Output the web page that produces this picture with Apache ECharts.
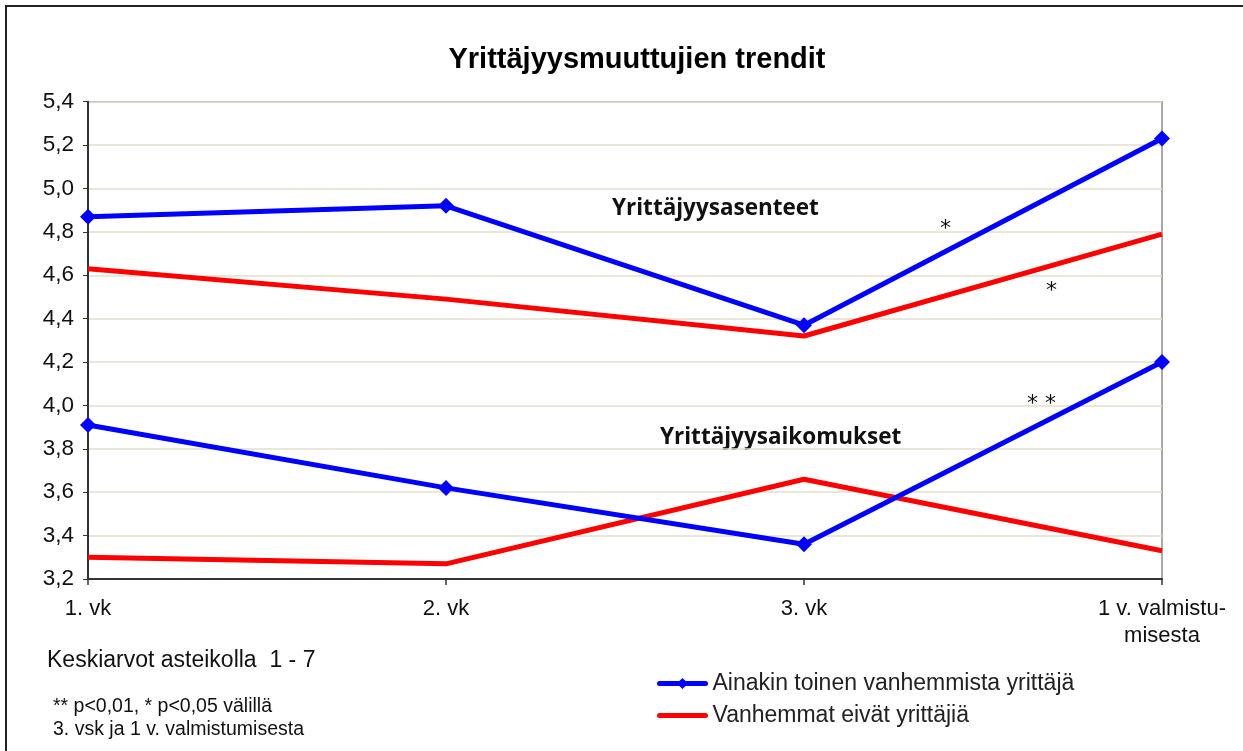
<!DOCTYPE html>
<html>
<head>
<meta charset="utf-8">
<script src="https://cdn.jsdelivr.net/npm/echarts@6/dist/echarts.min.js"></script>
<style>
  html, body { margin: 0; padding: 0; background: #fff; }
  #chart { width: 1243px; height: 751px; }
</style>
</head>
<body>
<div id="chart"></div>
<script>
  // mittauskerrat
  var categories = ['1. vk', '2. vk', '3. vk', '1 v. valmistu-\nmisesta'];
  // Yrittäjyysasenteet
  var asenteetYrittaja = [4.87, 4.92, 4.37, 5.23];
  var asenteetEiYrittaja = [4.63, 4.49, 4.32, 4.79];
  // Yrittäjyysaikomukset
  var aikomuksetYrittaja = [3.91, 3.62, 3.36, 4.20];
  var aikomuksetEiYrittaja = [3.30, 3.27, 3.66, 3.33];

  var nameBlue = 'Ainakin toinen vanhemmista yrittäjä';
  var nameRed = 'Vanhemmat eivät yrittäjiä';

  var chart = echarts.init(document.getElementById('chart'));

  function blueLine(data) {
    return {
      name: nameBlue, type: 'line', data: data,
      symbol: 'diamond', symbolSize: 16,
      lineStyle: { color: '#0000ff', width: 5 },
      itemStyle: { color: '#0000ff' },
      z: 3
    };
  }
  function redLine(data) {
    return {
      name: nameRed, type: 'line', data: data,
      symbol: 'none',
      lineStyle: { color: '#ff0000', width: 5 },
      itemStyle: { color: '#ff0000' },
      z: 2
    };
  }

  chart.setOption({
    animation: false,
    title: {
      text: 'Yrittäjyysmuuttujien trendit',
      left: 632, top: 40, textAlign: 'center',
      textStyle: { fontFamily: 'Liberation Sans', fontSize: 29, fontWeight: 'bold', color: '#000' }
    },
    grid: {
      left: 88, right: 81, top: 101.7, bottom: 172,
      show: true, borderColor: '#8c8c8c', borderWidth: 1.5
    },
    legend: {
      orient: 'vertical', left: 657, top: 672, padding: 0,
      itemWidth: 46, itemHeight: 14, itemGap: 9,
      data: [
        { name: nameBlue, lineStyle: { width: 5, cap: 'round' } },
        { name: nameRed, lineStyle: { width: 5, cap: 'round' }, itemStyle: { opacity: 0 } }
      ],
      textStyle: { fontFamily: 'Liberation Sans', fontSize: 23, color: '#222', padding: [0, 0, 0, 2] }
    },
    xAxis: {
      type: 'category', data: categories, boundaryGap: false,
      axisLine: { lineStyle: { color: '#333', width: 2 } },
      axisTick: { show: true, length: 6, lineStyle: { color: '#333', width: 1.5 } },
      axisLabel: { fontFamily: 'Liberation Sans', fontSize: 22, color: '#111', margin: 16, lineHeight: 27 },
      splitLine: { show: false }
    },
    yAxis: {
      type: 'value', min: 3.2, max: 5.4, interval: 0.2,
      axisLine: { show: true, lineStyle: { color: '#333', width: 2 } },
      axisTick: { show: true, length: 5, lineStyle: { color: '#333' } },
      axisLabel: {
        fontFamily: 'Liberation Sans', fontSize: 22.5, color: '#111', margin: 14,
        formatter: function (v) { return v.toFixed(1).replace('.', ','); }
      },
      splitLine: { lineStyle: { color: '#e3dfce', width: 1.5 } }
    },
    series: [
      blueLine(asenteetYrittaja),
      redLine(asenteetEiYrittaja),
      blueLine(aikomuksetYrittaja),
      redLine(aikomuksetEiYrittaja)
    ],
    graphic: [
      { type: 'rect', shape: { x: 6, y: 6, width: 1260, height: 770 },
        style: { fill: 'none', stroke: '#222', lineWidth: 2 }, silent: true },
      { type: 'text', left: 612, top: 197,
        style: { text: 'Yrittäjyysasenteet', font: 'bold 22.5px "Open Sans", sans-serif', fill: '#111' } },
      { type: 'text', left: 660, top: 426,
        style: { text: 'Yrittäjyysaikomukset', font: 'bold 22.5px "Open Sans", sans-serif', fill: '#111' } },
      { type: 'text', left: 940, top: 218,
        style: { text: '*', font: '22px "DejaVu Sans", sans-serif', fill: '#111' } },
      { type: 'text', left: 1046, top: 280,
        style: { text: '*', font: '22px "DejaVu Sans", sans-serif', fill: '#111' } },
      { type: 'text', left: 1027, top: 393,
        style: { text: '* *', font: '22px "DejaVu Sans", sans-serif', fill: '#111' } },
      { type: 'text', left: 47, top: 649,
        style: { text: 'Keskiarvot asteikolla  1 - 7', font: '23px "Liberation Sans", sans-serif', fill: '#111' } },
      { type: 'text', left: 53, top: 695,
        style: { text: '** p<0,01, * p<0,05 välillä\n3. vsk ja 1 v. valmistumisesta',
          font: '19.5px "Liberation Sans", sans-serif', lineHeight: 23, fill: '#111' } }
    ]
  });
</script>
</body>
</html>
